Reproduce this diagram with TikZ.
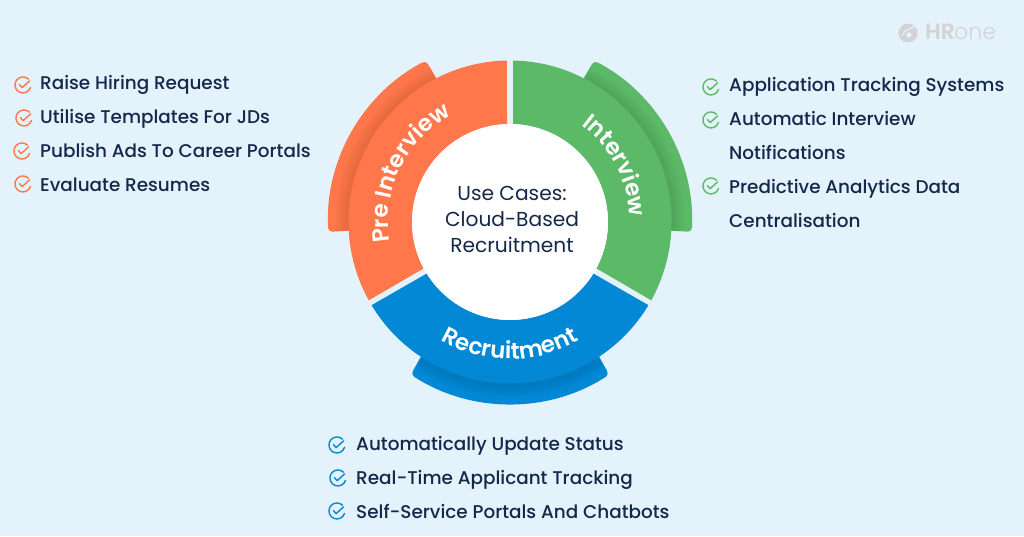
\documentclass[tikz,border=0pt]{standalone}
\usepackage{fontspec}
\setmainfont{Poppins}[UprightFont=* Medium,BoldFont=* SemiBold]
\newfontfamily\logothin{Poppins Light}
\newfontfamily\hubfont{Poppins}
\usetikzlibrary{decorations.text}
\definecolor{bgblue}{HTML}{E3F2FB}
\definecolor{orangeseg}{HTML}{FF774B}
\definecolor{greenseg}{HTML}{5CB968}
\definecolor{blueseg}{HTML}{0288D5}
\definecolor{navytext}{HTML}{14284B}
\definecolor{logogrey}{HTML}{D4D2D6}
\tikzset{
  itemlabel/.style={anchor=base west,inner sep=0pt,text=navytext,font=\fontsize{18.4}{20}\selectfont},
  tickicon/.pic={
    \draw[#1,line width=1.4pt,line cap=round] (5.5,5.8) arc (46:342:8);
    \draw[#1,line width=1.4pt,line cap=round,line join=round] (-3.6,0.4) -- (-0.8,-2.6) -- (6.6,4.2);
  },
  seglabel/.style={decorate,decoration={text along path,text align=center,text color=white,
    text={|\fontsize{23}{23}\bfseries|#1}}}
}
\begin{document}
\begin{tikzpicture}[x=1pt,y=1pt]
\useasboundingbox (0,0) rectangle (1024,536);
\fill[bgblue] (0,0) rectangle (1024,536);

\begin{scope}[shift={(510,314)}]
% tabs behind the ring
\fill[orangeseg,rounded corners=4pt] (117:155) -- (117.5:182) arc (117.5:183.1:182) -- (183.1:155) -- cycle;
\fill[greenseg,rounded corners=4pt] (63:155) -- (62.5:182) arc (62.5:-3.1:182) -- (-3.1:155) -- cycle;
\fill[blueseg,rounded corners=4pt] (236.3:155) -- (237:182) arc (237:303:182) -- (303.7:155) -- cycle;

% shadows on the tabs
\begin{scope}
\clip (117.5:182) arc (117.5:183.1:182) -- (183.1:150) arc (183.1:117.5:150) -- cycle;
\foreach \rr in {160,162,...,170}
  \fill[black,opacity=.016] (150:5) circle (\rr);
\end{scope}
\begin{scope}
\clip (62.5:182) arc (62.5:-3.1:182) -- (-3.1:150) arc (-3.1:62.5:150) -- cycle;
\foreach \rr in {160,162,...,170}
  \fill[black,opacity=.016] (30:5) circle (\rr);
\end{scope}
\begin{scope}
\clip (237:182) arc (237:303:182) -- (303:150) arc (303:237:150) -- cycle;
\foreach \rr in {160,162,...,170}
  \fill[black,opacity=.016] (270:5) circle (\rr);
\end{scope}

% ring
\fill[orangeseg] (91.1:161.5) arc (91.1:209:161.5) -- (208.25:98) arc (208.25:91.75:98) -- cycle;
\fill[greenseg] (88.9:161.5) arc (88.9:-29:161.5) -- (-28.25:98) arc (-28.25:88.25:98) -- cycle;
\fill[blueseg] (211:161.5) arc (211:329:161.5) -- (328.25:98) arc (328.25:211.75:98) -- cycle;
\fill[white] (0,0) circle (98);

\path[seglabel={Pre Interview}] (196:122) arc (196:112:122);
\path[seglabel={Interview}] (63:120) arc (63:-7:120);
\path[seglabel={Recruitment}] (235:137) arc (235:305:137);
\end{scope}

\node[align=center,inner sep=0pt,text=navytext,font=\hubfont\fontsize{20.2}{26}\selectfont] (usecases) at (512,317){Use Cases:\\Cloud-Based\\Recruitment};

% pre interview list
\pic at (23,451) {tickicon=orangeseg};
\pic at (24,418) {tickicon=orangeseg};
\pic at (22,385) {tickicon=orangeseg};
\pic at (23,352) {tickicon=orangeseg};
\node[itemlabel] (raise) at (40,446){Raise Hiring Request};
\node[itemlabel] (templates) at (40,412){Utilise Templates For JDs};
\node[itemlabel] (ads) at (40,378){Publish Ads To Career Portals};
\node[itemlabel] (resumes) at (40,344){Evaluate Resumes};

% interview list
\pic at (711,449) {tickicon=greenseg};
\pic at (711,416) {tickicon=greenseg};
\pic at (711,350) {tickicon=greenseg};
\node[itemlabel] (tracking) at (729,444){Application Tracking Systems};
\node[itemlabel] (automatic) at (729,410){Automatic Interview};
\node[itemlabel] (notify) at (729,376){Notifications};
\node[itemlabel] (predictive) at (729,342){Predictive Analytics Data};
\node[itemlabel] (central) at (729,308){Centralisation};

% recruitment list
\pic at (337,91) {tickicon=blueseg};
\pic at (338,58) {tickicon=blueseg};
\pic at (337,25) {tickicon=blueseg};
\node[itemlabel] (status) at (356,86){Automatically Update Status};
\node[itemlabel] (applicant) at (356,52){Real-Time Applicant Tracking};
\node[itemlabel] (portals) at (356,18){Self-Service Portals And Chatbots};

% logo
\fill[logogrey] (908,503) circle (9.5);
\draw[bgblue,line width=1.2pt] (902,500) .. controls (905,507) and (910,507) .. (915,510);
\fill[bgblue] (909,501) circle (2.6);
\node[anchor=base west,inner sep=0pt,text=logogrey,font=\fontsize{22}{22}\bfseries] (logohr) at (925,496){HR};
\node[anchor=base west,inner sep=0pt,text=logogrey,font=\logothin\fontsize{22}{22}\selectfont] (logoone) at (954,496){one};
\end{tikzpicture}
\end{document}
